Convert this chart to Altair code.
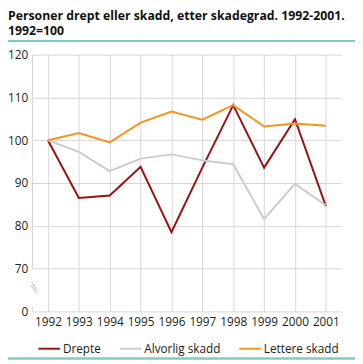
import altair as alt
import pandas as pd

years = ["1992", "1993", "1994", "1995", "1996", "1997", "1998", "1999", "2000", "2001"]
series_names = ["Drepte", "Alvorlig skadd", "Lettere skadd"]
drepte = [100, 86.5, 87.1, 93.8, 78.5, 93.6, 108.2, 93.6, 104.9, 84.6]
alvorlig = [100, 97.3, 92.8, 95.7, 96.7, 95.3, 94.4, 81.6, 89.8, 84.8]
lettere = [100, 101.7, 99.5, 104.1, 106.7, 104.8, 108.2, 103.2, 103.9, 103.4]
colors = ["#9b1010", "#cccccc", "#f7941d"]
y_ticks = [60, 70, 80, 90, 100, 110, 120]
title_lines = ["Personer drept eller skadd, etter skadegrad. 1992-2001.", "1992=100"]

rows = []
for name, vals in zip(series_names, [drepte, alvorlig, lettere]):
    for yr, v in zip(years, vals):
        rows.append({"year": yr, "series": name, "value": v})
df = pd.DataFrame(rows)

FONT = "Open Sans"
GRID = "#d6d6d6"
PL = 25  # left padding

y_scale = alt.Scale(domain=[60, 120], nice=False, zero=False)

lines = alt.Chart(df).mark_line(strokeWidth=2).encode(
    x=alt.X("year:O", scale=alt.Scale(type="point", padding=0.5),
            axis=alt.Axis(title=None, labelAngle=0, grid=True, ticks=False, domain=False,
                          labelPadding=5, gridColor=GRID, labelFont=FONT, labelFontSize=12,
                          labelColor="#222222")),
    y=alt.Y("value:Q", scale=y_scale,
            axis=alt.Axis(title=None, values=y_ticks, grid=True, ticks=False, domain=False,
                          labelExpr="datum.value == 60 ? '0' : datum.label",
                          labelPadding=5, gridColor=GRID, labelFont=FONT, labelFontSize=12,
                          labelColor="#222222")),
    color=alt.Color("series:N", sort=series_names,
                    scale=alt.Scale(domain=series_names, range=colors),
                    legend=alt.Legend(orient="none", legendX=5, legendY=288,
                                      direction="horizontal", title=None,
                                      symbolType="stroke", symbolSize=484,
                                      symbolStrokeWidth=2, labelFont=FONT,
                                      labelFontSize=12, labelColor="#222222",
                                      columnPadding=15, labelOffset=2)),
)

# broken y axis line
seg = pd.DataFrame({"y1": [120, 60], "y2": [70, 61]})
axis_line = alt.Chart(seg).mark_rule(color=GRID, strokeWidth=1).encode(
    x=alt.value(0), y=alt.Y("y1:Q", scale=y_scale), y2="y2:Q")

brk = pd.DataFrame({"a": [0, 1]})
break1 = alt.Chart(brk).mark_rule(color="#c8c8c8", strokeWidth=1).encode(
    x=alt.value(-0.5), x2=alt.value(5), y=alt.value(233), y2=alt.value(240.5))
break2 = alt.Chart(brk).mark_rule(color="#c8c8c8", strokeWidth=1).encode(
    x=alt.value(-1.5), x2=alt.value(4), y=alt.value(235.5), y2=alt.value(243))

teal_top = alt.Chart(brk).mark_rule(color="#7ccdc7", strokeWidth=2).encode(
    x=alt.value(-PL), x2=alt.value(329), y=alt.value(-14))
teal_bot = alt.Chart(brk).mark_rule(color="#7ccdc7", strokeWidth=2).encode(
    x=alt.value(-PL), x2=alt.value(329), y=alt.value(310))

title = alt.Chart(pd.DataFrame({"a": [0]})).mark_text(
    align="left", baseline="alphabetic", font=FONT, fontSize=12.5, fontWeight="bold",
    lineHeight=14.5, color="#111111").encode(
    x=alt.value(-PL), y=alt.value(-35), text=alt.value(title_lines))

chart = alt.layer(axis_line, break1, break2, lines, teal_top, teal_bot, title).properties(
    width=315, height=262,
    autosize=alt.AutoSizeParams(type="none"),
    padding={"left": PL, "top": 44, "right": 14, "bottom": 49},
).configure_view(strokeWidth=0)

chart.save("out.html", embed_options={"renderer": "svg", "actions": False})
